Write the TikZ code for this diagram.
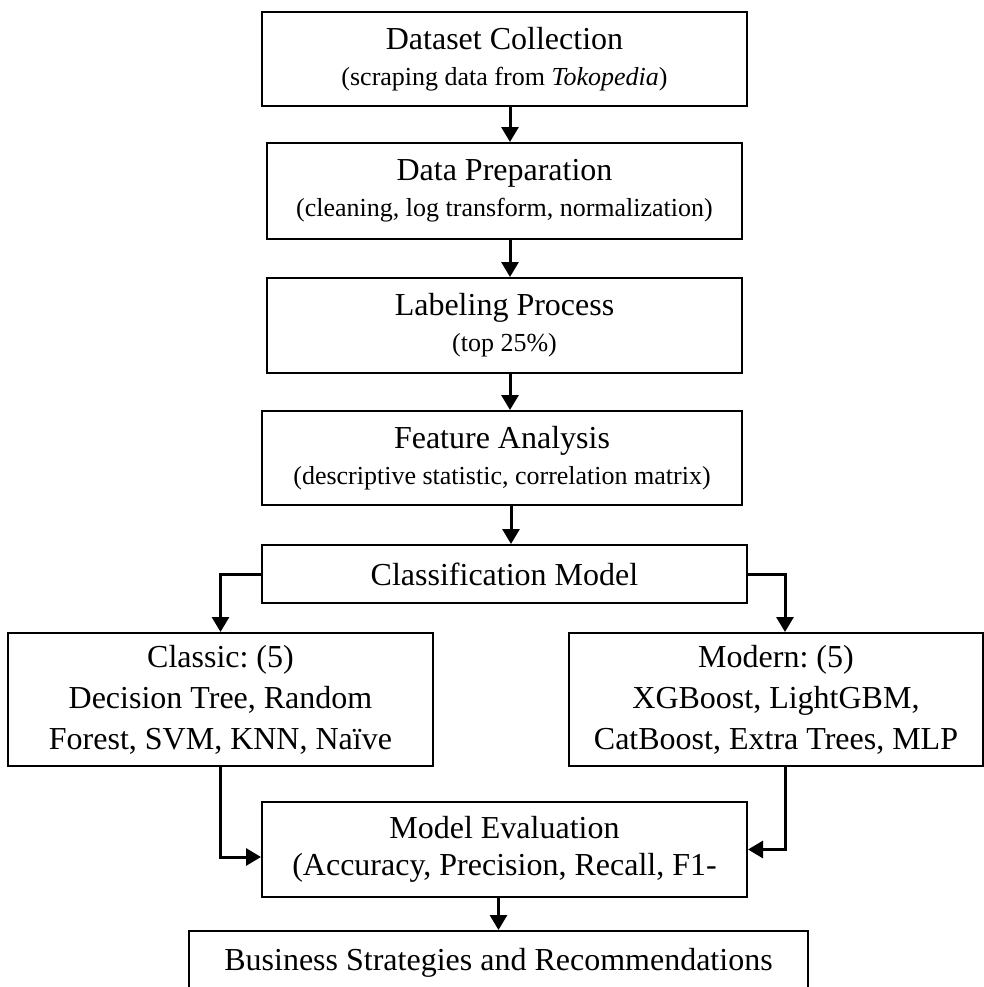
\documentclass[tikz,border=0pt]{standalone}
\usepackage{xcolor}
\usepackage{fontspec}
\setmainfont{Liberation Serif}
\usepackage{tikz}
\usetikzlibrary{arrows.meta}
\frenchspacing

\newcommand{\stagetitle}{\fontsize{16}{18}\selectfont}
\newcommand{\stagenote}{\fontsize{13}{18}\selectfont}

\tikzset{
  stagebox/.style={draw, line width=1pt, align=center, inner sep=0pt, font=\stagetitle},
  flowarrow/.style={line width=1.5pt, -{Triangle[length=7.5pt,width=8.5pt]}}
}

\begin{document}
\begin{tikzpicture}[x=.5pt, y=-.5pt]
             \useasboundingbox (0,0) rectangle (984,987);
             \clip (0,0) rectangle (984,987);

             \node[stagebox, minimum width=242.5pt, minimum height=47pt] (dsColl) at (504.5, 59)
                  {Dataset Collection\\ \stagenote(scraping data from \textit{Tokopedia})};
             \node[stagebox, minimum width=237.5pt, minimum height=48pt] (dataPrep) at (504.5, 191)
                  {Data Preparation\\ \stagenote(cleaning, log transform, normalization)};
             \node[stagebox, minimum width=237.5pt, minimum height=47.5pt] (labelProc) at (504.5, 325.5)
                  {Labeling Process\\ \stagenote(top 25\%)};
             \node[stagebox, minimum width=240pt, minimum height=47pt] (featAnal) at (502, 458)
                  {Feature Analysis\\ \stagenote(descriptive statistic, correlation matrix)};
             \node[stagebox, minimum width=242.5pt, minimum height=29pt] (clsModel) at (504.5, 574)
                  {Classification Model};

             \node[stagebox, minimum width=212.5pt, minimum height=66.5pt, font=\fontsize{16}{20.5}\selectfont] (classic) at (220.5, 699.5)
                  {Classic: (5)\\ Decision Tree, Random\\ Forest, SVM, KNN, Na\"ive};
             \node[stagebox, minimum width=207pt, minimum height=66.5pt, font=\fontsize{16}{20.5}\selectfont] (modern) at (776, 699.5)
                  {Modern: (5)\\ XGBoost, LightGBM,\\ CatBoost, Extra Trees, MLP};

             \node[stagebox, minimum width=242.5pt, minimum height=47.5pt, font=\fontsize{16}{18.5}\selectfont] (modelEval) at (504.5, 849.5)
                  {Model Evaluation\\ (Accuracy, Precision, Recall, F1-};
             \node[stagebox, minimum width=309.5pt, minimum height=32pt] (bizStrat) at (498.5, 963)
                  {Business Strategies and Recommendations};

             \draw[flowarrow] ([xshift=2.75pt]dsColl.south) -- ([xshift=2.75pt]dataPrep.north);
             \draw[flowarrow] ([xshift=2.75pt]dataPrep.south) -- ([xshift=2.75pt]labelProc.north);
             \draw[flowarrow] ([xshift=2.75pt]labelProc.south) -- ([xshift=4pt]featAnal.north);
             \draw[flowarrow] ([xshift=4.5pt]featAnal.south) -- ([xshift=3.25pt]clsModel.north);

             \draw[flowarrow] (clsModel.west) -| (classic.north);
             \draw[flowarrow] (clsModel.east) -| ([xshift=4.5pt]modern.north);

             \draw[flowarrow] (classic.south) |- ([yshift=-3.75pt]modelEval.west);
             \draw[flowarrow] ([xshift=4.5pt]modern.south) |- (modelEval.east);
             \draw[flowarrow] (modelEval.south -| bizStrat.north) -- (bizStrat.north);
             \end{tikzpicture}
\end{document}
